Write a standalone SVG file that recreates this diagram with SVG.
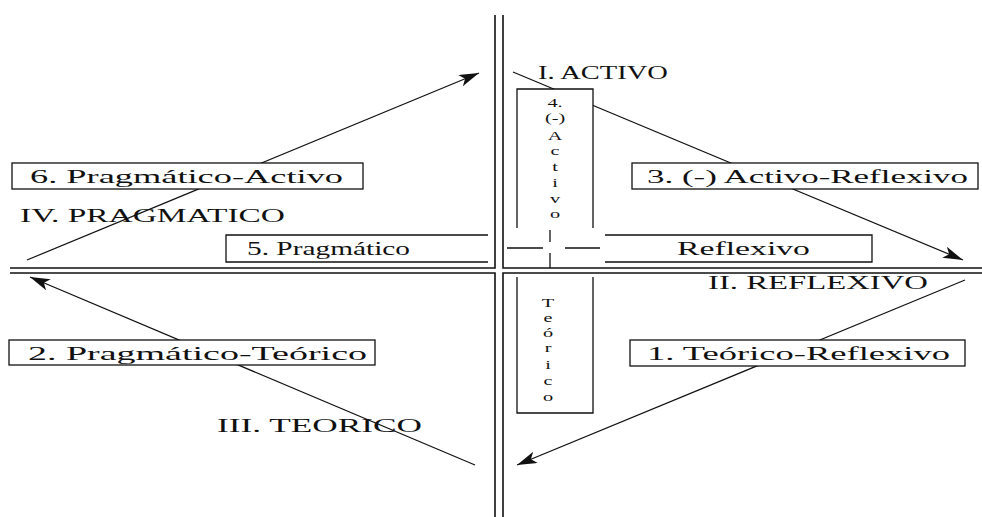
<svg xmlns="http://www.w3.org/2000/svg" width="982" height="517" viewBox="0 0 982 517">
<style>
text{font-family:"Liberation Serif","Times New Roman",serif;font-size:19px;fill:#111}
.ax{fill:none;stroke:#111;stroke-width:1.6}
.bx{fill:#fff;stroke:#111;stroke-width:1.3}
.ed{fill:none;stroke:#111;stroke-width:1.3}
.cn{fill:none;stroke:#111;stroke-width:1.2}
.v{text-anchor:middle;font-size:13.5px}
</style>
<defs>
<marker id="ah" markerUnits="userSpaceOnUse" markerWidth="22" markerHeight="14" refX="20" refY="6" orient="auto">
<path d="M0,0 L20,6 L0,12 L5,6 z" fill="#111"/>
</marker>
</defs>
<rect width="982" height="517" fill="#fff"/>
<g id="axes">
<path class="ax" d="M495,15 V268 H10 M503,15 V268 H982 M10,273 H495 V517 M982,273 H503 V517"/>
</g>
<g id="connectors">
<line class="cn" x1="27" y1="260" x2="479" y2="73" marker-end="url(#ah)"/>
<line class="cn" x1="513" y1="72" x2="963" y2="260" marker-end="url(#ah)"/>
<line class="cn" x1="965" y1="280" x2="517" y2="465" marker-end="url(#ah)"/>
<line class="cn" x1="475" y1="465" x2="30" y2="277" marker-end="url(#ah)"/>
</g>
<g id="label-activo"><text x="538" y="79" textLength="130" lengthAdjust="spacingAndGlyphs">I.  ACTIVO</text></g>
<g id="label-pragmatico"><text x="20" y="222" textLength="265" lengthAdjust="spacingAndGlyphs">IV.  PRAGMATICO</text></g>
<g id="label-reflexivo"><text x="708" y="289" textLength="220" lengthAdjust="spacingAndGlyphs">II.  REFLEXIVO</text></g>
<g id="label-teorico"><text x="217" y="432" textLength="205" lengthAdjust="spacingAndGlyphs">III.  TEORICO</text></g>
<g id="node6">
<rect class="bx" x="12" y="163" width="351" height="26"/>
<text x="30" y="183" textLength="313" lengthAdjust="spacingAndGlyphs">6.  Pragmático-Activo</text>
</g>
<g id="node3">
<rect class="bx" x="632" y="163" width="346" height="26"/>
<text x="647" y="183" textLength="321" lengthAdjust="spacingAndGlyphs">3.  (-) Activo-Reflexivo</text>
</g>
<g id="node2">
<rect class="bx" x="9" y="340" width="366" height="25"/>
<text x="28" y="360" textLength="339" lengthAdjust="spacingAndGlyphs">2.  Pragmático-Teórico</text>
</g>
<g id="node1">
<rect class="bx" x="630" y="340" width="335" height="26"/>
<text x="647" y="360" textLength="303" lengthAdjust="spacingAndGlyphs">1.  Teórico-Reflexivo</text>
</g>
<g id="node4">
<rect x="517" y="89" width="76" height="139" fill="#fff"/>
<path class="ed" d="M517,228 V89 H593 V228"/>
<g transform="translate(555 0) scale(1.5 1)">
<text class="v" x="0" y="107">4.</text>
<text class="v" x="0" y="122">(-)</text>
<text class="v" x="0" y="140">A</text>
<text class="v" x="0" y="155.5">c</text>
<text class="v" x="0" y="171">t</text>
<text class="v" x="0" y="187">i</text>
<text class="v" x="0" y="203.5">v</text>
<text class="v" x="0" y="218">o</text>
</g>
</g>
<g id="node5">
<rect x="226" y="235" width="262" height="27" fill="#fff"/>
<path class="ed" d="M488,235 H226 V262 H488"/>
<text x="247" y="255" textLength="163" lengthAdjust="spacingAndGlyphs">5.  Pragmático</text>
</g>
<g id="node-center">
<path class="ed" d="M507,248 H543 M565,248 H600 M550,230 V242 M550,253 V268"/>
</g>
<g id="node-reflexivo">
<rect x="605" y="235" width="267" height="27" fill="#fff"/>
<path class="ed" d="M605,235 H872 V262 H605"/>
<text x="677" y="255" textLength="133" lengthAdjust="spacingAndGlyphs">Reflexivo</text>
</g>
<g id="node-teorico">
<rect x="517" y="277" width="76" height="136" fill="#fff"/>
<path class="ed" d="M517,277 V413 H593 V277"/>
<g transform="translate(548 0) scale(1.5 1)">
<text class="v" x="0" y="307">T</text>
<text class="v" x="0" y="322">e</text>
<text class="v" x="0" y="337.5">ó</text>
<text class="v" x="0" y="352">r</text>
<text class="v" x="0" y="369">i</text>
<text class="v" x="0" y="385.5">c</text>
<text class="v" x="0" y="401">o</text>
</g>
</g>
</svg>
